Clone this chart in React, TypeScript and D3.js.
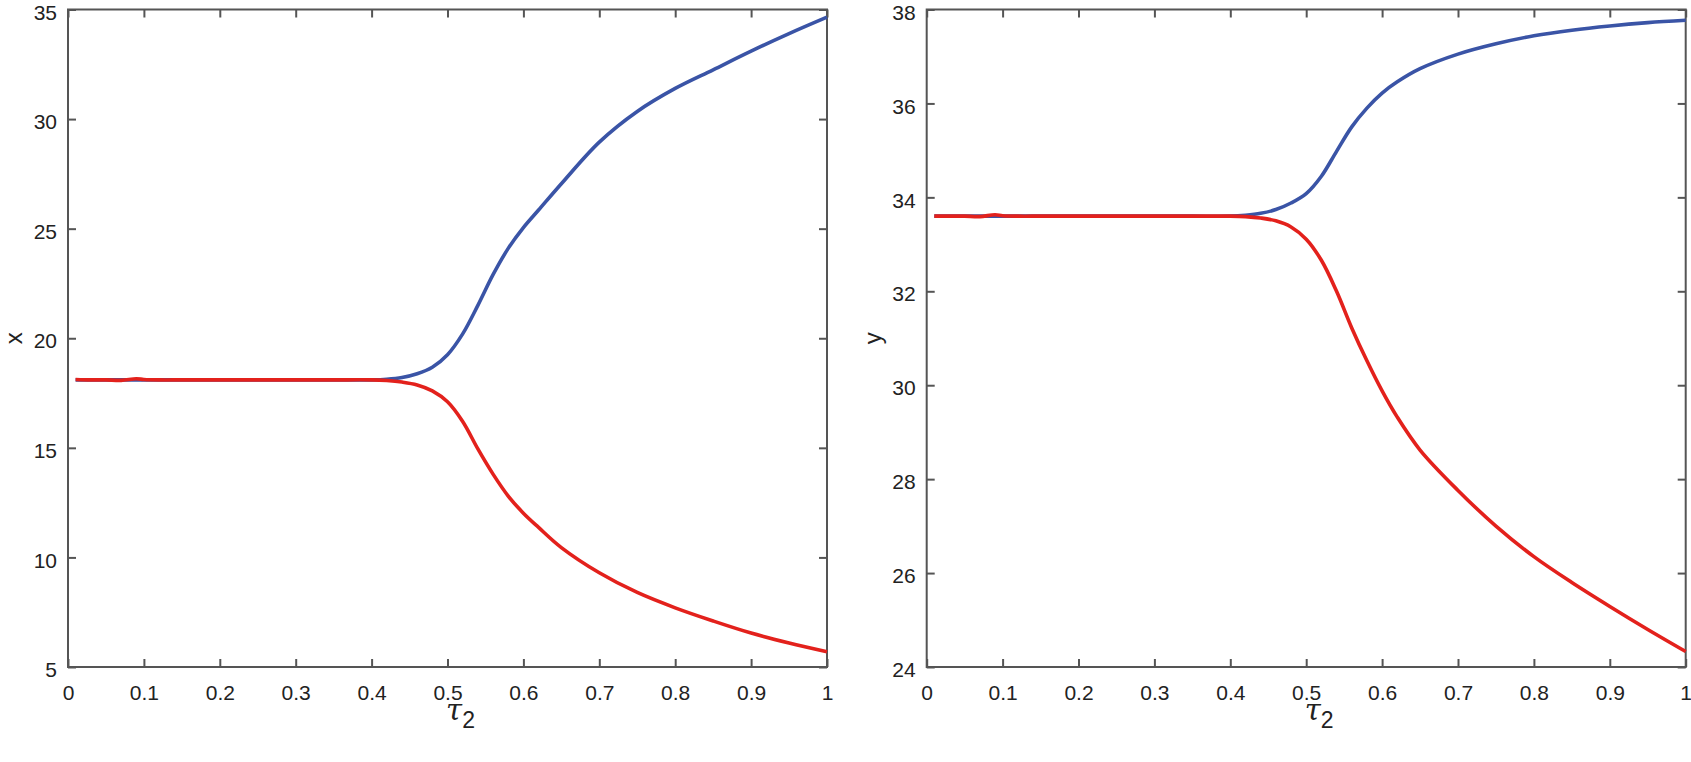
import React, { useEffect, useRef } from 'react';
import * as d3 from 'd3';

// tau_2 sample points (shared by both panels)
const tau = [0.01, 0.03, 0.05, 0.07, 0.09, 0.1, 0.12, 0.15, 0.2, 0.25, 0.3, 0.35, 0.4, 0.42, 0.44, 0.46, 0.48, 0.5,
  0.52, 0.54, 0.56, 0.58, 0.6, 0.62, 0.65, 0.7, 0.75, 0.8, 0.85, 0.9, 0.95, 1.0];

// left panel: x
const xBlue = [18.1, 18.1, 18.1, 18.1, 18.1, 18.1, 18.1, 18.1, 18.1, 18.1, 18.1, 18.1, 18.1, 18.13, 18.21, 18.38, 18.68, 19.25,
  20.2, 21.5, 22.9, 24.1, 25.05, 25.85, 27.05, 28.95, 30.35, 31.4, 32.25, 33.1, 33.9, 34.65];
const xRed = [18.12, 18.1, 18.1, 18.08, 18.15, 18.12, 18.1, 18.1, 18.1, 18.1, 18.1, 18.1, 18.1, 18.07, 18.0, 17.87, 17.6, 17.1,
  16.2, 14.95, 13.8, 12.8, 12.02, 11.37, 10.45, 9.3, 8.4, 7.7, 7.1, 6.55, 6.1, 5.7];

// right panel: y
const yBlue = [33.6, 33.6, 33.6, 33.6, 33.6, 33.6, 33.6, 33.6, 33.6, 33.6, 33.6, 33.6, 33.6, 33.62, 33.66, 33.74, 33.88, 34.08,
  34.45, 34.98, 35.5, 35.9, 36.22, 36.46, 36.74, 37.05, 37.27, 37.44, 37.56, 37.65, 37.72, 37.77];
const yRed = [33.6, 33.6, 33.6, 33.59, 33.63, 33.61, 33.6, 33.6, 33.6, 33.6, 33.6, 33.6, 33.6, 33.59, 33.56, 33.5, 33.37, 33.11,
  32.66, 32.0, 31.22, 30.52, 29.88, 29.32, 28.62, 27.76, 27.0, 26.35, 25.8, 25.29, 24.8, 24.33];

const xTicks = [0, 0.1, 0.2, 0.3, 0.4, 0.5, 0.6, 0.7, 0.8, 0.9, 1];
const xTickLabels = ['0', '0.1', '0.2', '0.3', '0.4', '0.5', '0.6', '0.7', '0.8', '0.9', '1'];
const leftTicks = [5, 10, 15, 20, 25, 30, 35];
const rightTicks = [24, 26, 28, 30, 32, 34, 36, 38];

const BLUE = '#3a54a6';
const RED = '#e3211c';
const AXIS = '#555555';
const FONT = '"Liberation Sans", Arial, Helvetica, sans-serif';

const App = () => {
  const ref = useRef(null);

  useEffect(() => {
    const svg = d3.select(ref.current);
    svg.selectAll('*').remove();

    const top = 9.5, bottom = 667;

    const panels = [
      { left: 68, right: 827, domain: [5, 35], ticks: leftTicks, blue: xBlue, red: xRed, label: 'x' },
      { left: 926.7, right: 1685.7, domain: [24, 38], ticks: rightTicks, blue: yBlue, red: yRed, label: 'y' },
    ];

    panels.forEach(p => {
      const xScale = d3.scaleLinear().domain([0, 1]).range([p.left, p.right]);
      const yScale = d3.scaleLinear().domain(p.domain).range([bottom, top]);
      const g = svg.append('g');

      // inward ticks on all four sides (matlab style)
      const fmt = d => xTickLabels[xTicks.indexOf(d)];
      const bottomAxis = g.append('g').attr('transform', `translate(0,${bottom})`)
        .call(d3.axisBottom(xScale).tickValues(xTicks).tickFormat(fmt).tickSize(-8).tickPadding(18));
      g.append('g').attr('transform', `translate(0,${top})`)
        .call(d3.axisTop(xScale).tickValues(xTicks).tickFormat(() => '').tickSize(-8));
      const leftAxis = g.append('g').attr('transform', `translate(${p.left},0)`)
        .call(d3.axisLeft(yScale).tickValues(p.ticks).tickSize(-8).tickPadding(11));
      g.append('g').attr('transform', `translate(${p.right},0)`)
        .call(d3.axisRight(yScale).tickValues(p.ticks).tickFormat(() => '').tickSize(-8));

      g.selectAll('.domain').remove();
      g.selectAll('.tick line').attr('stroke', AXIS).attr('stroke-width', 2);
      [bottomAxis, leftAxis].forEach(a => a.selectAll('text')
        .attr('fill', '#222').style('font-family', FONT).style('font-size', '21px'));
      leftAxis.selectAll('text').attr('dy', '0.46em');

      // box
      g.append('rect')
        .attr('x', p.left).attr('y', top)
        .attr('width', p.right - p.left).attr('height', bottom - top)
        .attr('fill', 'none').attr('stroke', AXIS).attr('stroke-width', 2);

      const line = d3.line()
        .x((d, i) => xScale(tau[i]))
        .y(d => yScale(d))
        .curve(d3.curveCatmullRom.alpha(0.5));

      g.append('path').datum(p.blue).attr('d', line)
        .attr('fill', 'none').attr('stroke', BLUE).attr('stroke-width', 3.6).attr('stroke-linejoin', 'round');
      g.append('path').datum(p.red).attr('d', line)
        .attr('fill', 'none').attr('stroke', RED).attr('stroke-width', 3.6).attr('stroke-linejoin', 'round');

      // y label
      g.append('text')
        .attr('transform', `translate(${p.left - 46},${(top + bottom) / 2}) rotate(-90)`)
        .attr('text-anchor', 'middle')
        .style('font-family', FONT).style('font-size', '24px').attr('fill', '#222')
        .text(p.label);

      // x label: tau_2
      const xl = g.append('text')
        .attr('x', (p.left + p.right) / 2 + 13).attr('y', 720)
        .attr('text-anchor', 'middle')
        .style('font-family', '"DejaVu Serif", "Liberation Serif", serif').style('font-size', '29px').attr('fill', '#222');
      xl.append('tspan').style('font-style', 'italic').text('τ');
      xl.append('tspan').attr('dy', 8).style('font-family', FONT).style('font-size', '23px').text('2');
    });
  }, []);

  return (
    <svg ref={ref} width={1691} height={762}
      style={{ position: 'absolute', left: 0, top: 0, display: 'block', background: '#fff' }} />
  );
};

export default App;
